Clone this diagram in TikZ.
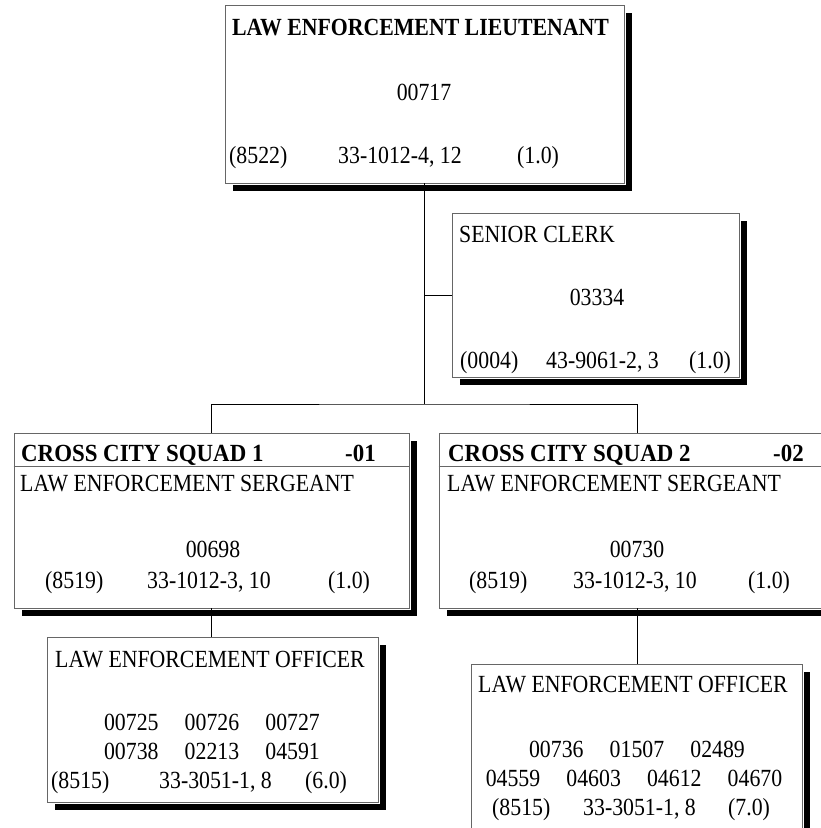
\documentclass[tikz,border=0pt]{standalone}
\usepackage{fontspec}
\setmainfont{Liberation Serif}
\usetikzlibrary{shadows}
\newcommand{\vt}[1]{\scalebox{1}[1.13]{#1}}
\newcommand{\vb}[1]{\scalebox{1.05}[1.13]{\textbf{#1}}}
\begin{document}
\begin{tikzpicture}[x=1pt,y=-1pt,
  box/.style={rectangle, draw=black!60, line width=0.9pt, fill=white, inner sep=0pt,
    drop shadow={shadow xshift=8pt, shadow yshift=-8pt, opacity=1, fill=black, draw=none},
    preaction={draw=white, line width=3pt}},
  txt/.style={inner sep=0pt, font=\fontsize{21.8}{24}\selectfont},
  lw/.style={txt, anchor=base west},
  lc/.style={txt, anchor=base},
  ln/.style={draw=black, line width=0.8pt},
  hd/.style={draw=black!60, line width=0.9pt}]
\useasboundingbox (0,0) rectangle (821,828);
% boxes
\node[box, minimum width=399pt, minimum height=178pt] (lt) at (424.5,94) {};
\node[box, minimum width=287pt, minimum height=164pt] (sc) at (595.5,295) {};
\node[box, minimum width=395pt, minimum height=175pt] (s1) at (211.5,520.5) {};
\node[box, minimum width=396pt, minimum height=175pt] (s2) at (637,520.5) {};
\node[box, minimum width=331pt, minimum height=165pt] (o1) at (212.5,719.5) {};
\node[box, minimum width=331pt, minimum height=180pt] (o2) at (636.5,754) {};
% connectors
\coordinate (bus) at (424.5,404);
\draw[ln] (lt.south) -- (bus);
\draw[ln] (lt.south |- sc.west) -- (sc.west);
\draw[ln] (s1.north) |- (bus) -| (s2.north);
\draw[ln] (s1.south) -- (s1.south |- o1.north);
\draw[ln] (s2.south) -- (s2.south |- o2.north);
% header rules
\draw[hd] (s1.west |- 0,466) -- (s1.east |- 0,466);
\draw[hd] (s2.west |- 0,466) -- (s2.east |- 0,466);
% top box text
\node[lw] (lt1) at (232,35) {\vt{\textbf{LAW ENFORCEMENT LIEUTENANT}}};
\node[lc] (lt2) at (424,100) {\vt{00717}};
\node[lw] (lt3) at (229,163) {\vt{(8522)}};
\node[lw] (lt4) at (338,163) {\vt{33-1012-4, 12}};
\node[lw] (lt5) at (517,163) {\vt{(1.0)}};
% senior clerk
\node[lw] (sc1) at (459,242) {\vt{SENIOR CLERK}};
\node[lc] (sc2) at (597,305) {\vt{03334}};
\node[lw] (sc3) at (460,368) {\vt{(0004)}};
\node[lw] (sc4) at (546,368) {\vt{43-9061-2, 3}};
\node[lw] (sc5) at (689,368) {\vt{(1.0)}};
% squad 1
\node[lw] (s1a) at (21,461) {\vb{CROSS CITY SQUAD 1}};
\node[lw] (s1b) at (345,461) {\vb{-01}};
\node[lw] (s1c) at (20,491) {\vt{LAW ENFORCEMENT SERGEANT}};
\node[lc] (s1d) at (213,557) {\vt{00698}};
\node[lw] (s1e) at (45,588) {\vt{(8519)}};
\node[lw] (s1f) at (147,588) {\vt{33-1012-3, 10}};
\node[lw] (s1g) at (328,588) {\vt{(1.0)}};
% squad 2
\node[lw] (s2a) at (448,461) {\vb{CROSS CITY SQUAD 2}};
\node[lw] (s2b) at (773,461) {\vb{-02}};
\node[lw] (s2c) at (447,491) {\vt{LAW ENFORCEMENT SERGEANT}};
\node[lc] (s2d) at (637,557) {\vt{00730}};
\node[lw] (s2e) at (469,588) {\vt{(8519)}};
\node[lw] (s2f) at (573,588) {\vt{33-1012-3, 10}};
\node[lw] (s2g) at (748,588) {\vt{(1.0)}};
% officer 1
\node[lw] (o1a) at (55,667) {\vt{LAW ENFORCEMENT OFFICER}};
\node[lc] (o1b) at (212,730) {\vt{00725\hspace{1.2em}00726\hspace{1.2em}00727}};
\node[lc] (o1c) at (212,759) {\vt{00738\hspace{1.2em}02213\hspace{1.2em}04591}};
\node[lw] (o1d) at (51,788) {\vt{(8515)}};
\node[lw] (o1e) at (159,788) {\vt{33-3051-1, 8}};
\node[lw] (o1f) at (305,788) {\vt{(6.0)}};
% officer 2
\node[lw] (o2a) at (478,692) {\vt{LAW ENFORCEMENT OFFICER}};
\node[lc] (o2b) at (637,757) {\vt{00736\hspace{1.2em}01507\hspace{1.2em}02489}};
\node[lc] (o2c) at (634,786) {\vt{04559\hspace{1.2em}04603\hspace{1.2em}04612\hspace{1.2em}04670}};
\node[lw] (o2d) at (492,815) {\vt{(8515)}};
\node[lw] (o2e) at (583,815) {\vt{33-3051-1, 8}};
\node[lw] (o2f) at (728,815) {\vt{(7.0)}};
\end{tikzpicture}
\end{document}
